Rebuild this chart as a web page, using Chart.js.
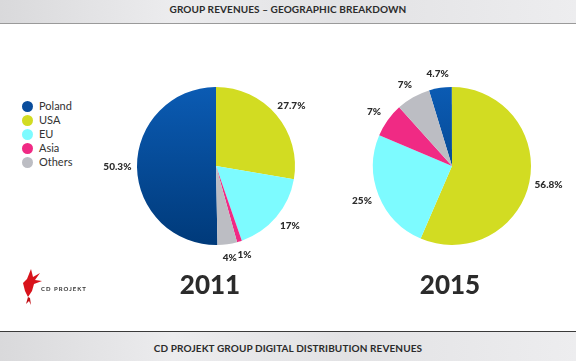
<!DOCTYPE html>
<html lang="en">
<head>
<meta charset="UTF-8">
<title>Group revenues - geographic breakdown</title>
<script src="https://cdn.jsdelivr.net/npm/chart.js"></script>
<style>
    body { margin: 0; width: 576px; height: 361px; background: #fff; position: relative; overflow: hidden; font-family: Lato, "Open Sans", sans-serif; }
    .band { position: absolute; left: 0; width: 576px; background: linear-gradient(90deg, #d9d9db, #ececee 30%, #e2e2e4 60%, #ededef); text-align: center; font-weight: 700; font-size: 10px; color: #2b2b2b; letter-spacing: 0.1px; }
    .top { top: 0; height: 23px; line-height: 18px; border-bottom: 1px solid #9a9a9a; }
    .bottom { top: 331px; height: 30px; line-height: 32px; border-top: 1px solid #3a3a3a; }
    canvas { position: absolute; }
    #legend { position: absolute; left: 22px; top: 99px; font-size: 11px; color: #333; }
    #legend div { height: 14px; line-height: 14px; }
    #legend span { display: inline-block; width: 11px; height: 11px; border-radius: 50%; vertical-align: -2px; margin-right: 6px; }
    .year { position: absolute; top: 268px; width: 120px; text-align: center; font-weight: 900; font-size: 26px; color: #2b2b2b; }
    .logo { position: absolute; left: 22px; top: 267px; }
    .logo b { position: absolute; left: 19px; top: 18px; font-size: 6px; font-weight: 700; letter-spacing: 1px; color: #333; white-space: nowrap; }
</style>
</head>
<body>
    <div class="band top">GROUP REVENUES – GEOGRAPHIC BREAKDOWN</div>
    <div id="legend"></div>

    <canvas id="chart2011" width="240" height="240" style="left:96px;top:46px"></canvas>
    <canvas id="chart2015" width="240" height="240" style="left:332px;top:46px"></canvas>

    <div class="year" style="left:150px">2011</div>
    <div class="year" style="left:390px">2015</div>

    <div class="logo">
        <svg width="20" height="40" viewBox="0 0 20 40">
            <polygon points="9,2 11,10 18,6 13,13 20,14 12,17 10,24 6,30 3,24 1,16 5,12" fill="#d8131b"/>
            <polygon points="6,30 4,37 7,34 9,38 8,31" fill="#c21016"/>
        </svg>
        <b>CD PROJEKT</b>
    </div>

    <div class="band bottom">CD PROJEKT GROUP DIGITAL DISTRIBUTION REVENUES</div>

<script>
    // regions, in legend order
    const regions = ['Poland', 'USA', 'EU', 'Asia', 'Others'];
    const colors = ['#0a4d9c', '#d2dc22', '#7dfbff', '#f02a84', '#bcbdc3'];

    // share of revenues, %
    const values2011 = [50.3, 27.7, 17, 1, 4];
    const values2015 = [4.7, 56.8, 25, 7, 7];

    // legend
    const legend = document.getElementById('legend');
    regions.forEach(function (r, i) {
        legend.innerHTML += '<div><span style="background:' + colors[i] + '"></span>' + r + '</div>';
    });

    // percent labels outside the slices
    const pctLabels = {
        id: 'pctLabels',
        afterDatasetsDraw(chart) {
            const ctx = chart.ctx;
            const values = chart.data.datasets[0].data;
            ctx.save();
            ctx.font = '900 10px Lato, "Open Sans", sans-serif';
            ctx.fillStyle = '#2b2b2b';
            ctx.textAlign = 'center';
            ctx.textBaseline = 'middle';
            chart.getDatasetMeta(0).data.forEach(function (arc, i) {
                const txt = values[i] + '%';
                const w = ctx.measureText(txt).width;
                const mid = (arc.startAngle + arc.endAngle) / 2;
                const R = arc.outerRadius + 14;
                const x = arc.x + Math.cos(mid) * R + Math.cos(mid) * w * 0.2;
                const y = arc.y + Math.sin(mid) * R;
                ctx.fillText(txt, x, y);
            });
            ctx.restore();
        }
    };

    function polandGradient(context) {
        const chart = context.chart;
        const area = chart.chartArea;
        if (!area) return colors[0];
        const g = chart.ctx.createLinearGradient(0, area.top, 0, area.bottom);
        g.addColorStop(0, '#0b5bb3');
        g.addColorStop(1, '#003a7a');
        return g;
    }

    function makePie(id, values) {
        return new Chart(document.getElementById(id), {
            type: 'pie',
            data: {
                labels: regions,
                datasets: [{
                    data: values,
                    backgroundColor: function (c) {
                        return c.dataIndex === 0 ? polandGradient(c) : colors[c.dataIndex];
                    },
                    borderWidth: 0
                }]
            },
            options: {
                responsive: false,
                animation: false,
                rotation: -values[0] * 3.6,
                layout: { padding: 41 },
                plugins: {
                    legend: { display: false },
                    tooltip: { enabled: false }
                }
            },
            plugins: [pctLabels]
        });
    }

    const chart2011 = makePie('chart2011', values2011);
    const chart2015 = makePie('chart2015', values2015);
</script>
</body>
</html>
